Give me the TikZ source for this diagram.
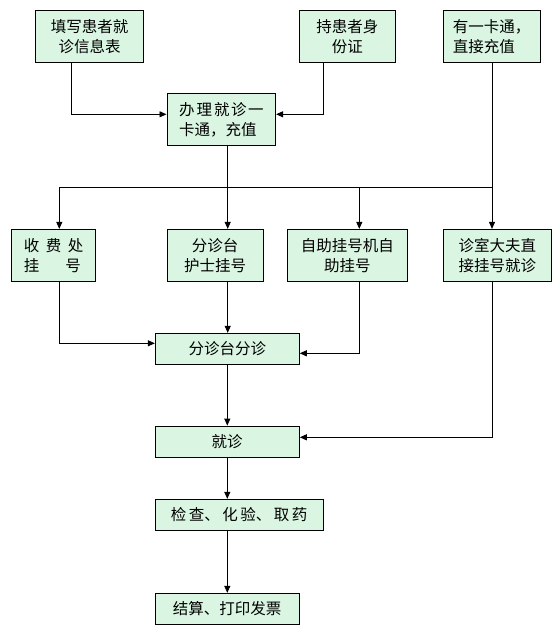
\documentclass[tikz,border=0pt]{standalone}
\usepackage{fontspec}
\setmainfont{Noto Sans CJK SC}
\usetikzlibrary{arrows.meta}
\definecolor{boxfill}{RGB}{218,246,226}
\begin{document}
\begin{tikzpicture}[x=1pt,y=-1pt,
  box/.style={draw=black,line width=0.9pt,fill=boxfill,inner sep=0pt,
    font=\fontsize{15.5pt}{20pt}\selectfont,align=center},
  lbox/.style={box,align=left},
  arr/.style={line width=0.9pt,-{Triangle[length=7pt,width=6pt]}},
  ln/.style={line width=0.9pt}]
\useasboundingbox (0,0) rectangle (557,631);
\fill[white] (0,0) rectangle (557,631);
% boxes
\node[box,minimum width=107.6pt,minimum height=52pt] (A) at (89.5,36.3) {填写患者就\\诊信息表};
\node[box,minimum width=96pt,minimum height=52pt] (B) at (347.3,36.3) {持患者身\\份证};
\node[lbox,minimum width=96.7pt,minimum height=52pt] (C) at (491.7,36.3) {有一卡通，\\直接充值};
\node[lbox,minimum width=108.7pt,minimum height=52pt] (D) at (221.3,119.7) {办\kern2pt 理\kern2pt 就\kern1.5pt 诊\kern1.5pt 一\\卡通，充值};
\node[lbox,minimum width=84pt,minimum height=51.7pt] (E) at (53.7,255.2) {收\hspace{6.5pt}费\hspace{6.5pt}处\\挂\hspace{26pt}号};
\node[box,minimum width=96.3pt,minimum height=51.7pt] (F) at (215.2,255.2) {分诊台\\护士挂号};
\node[box,minimum width=120pt,minimum height=51.7pt] (G) at (347.3,255.2) {自助挂号机自\\助挂号};
\node[box,minimum width=108pt,minimum height=51.7pt] (H) at (497.3,255.2) {诊室大夫直\\接挂号就诊};
\node[box,minimum width=144pt,minimum height=31pt] (I) at (227.3,348.8) {分诊台分诊};
\node[box,minimum width=144.3pt,minimum height=31.3pt] (J) at (227.2,441.7) {就诊};
\node[box,minimum width=168.3pt,minimum height=31.4pt] (K) at (239.2,515) {检\kern2.5pt 查、\kern2.5pt 化\kern2.5pt 验、\kern2.5pt 取\kern2.5pt 药};
\node[box,minimum width=144.3pt,minimum height=31pt] (L) at (227.2,608.8) {结算、打印发票};
% helper coordinates
\coordinate (a1) at (71.3,114.3);
\coordinate (b1) at (323.7,114.3);
\coordinate (d1) at (227.7,187.3);
\coordinate (bl) at (59.3,187.3);
\coordinate (br) at (492,187.3);
\coordinate (g1) at (359.3,187.3);
\coordinate (e1) at (59.3,343.3);
\coordinate (g2) at (359.3,353.3);
\coordinate (h1) at (492,437.3);
\coordinate (c1) at (227.3,400);
% connectors
\draw[arr] (A.south -| a1) |- (D.west |- a1);
\draw[arr] (B.south -| b1) |- (D.east |- b1);
\draw[ln] (D.south -| d1) -- (d1);
\draw[ln] (bl) -- (br);
\draw[arr] (C.south -| br) -- (H.north -| br);
\draw[arr] (bl) -- (E.north -| bl);
\draw[arr] (d1) -- (F.north -| d1);
\draw[arr] (g1) -- (G.north -| g1);
\draw[arr] (E.south -| e1) |- (I.west |- e1);
\draw[arr] (F.south -| d1) -- (I.north -| d1);
\draw[arr] (G.south -| g2) |- (I.east |- g2);
\draw[arr] (H.south -| h1) |- (J.east |- h1);
\draw[arr] (I.south -| c1) -- (J.north -| c1);
\draw[arr] (J.south -| c1) -- (K.north -| c1);
\draw[arr] (K.south -| c1) -- (L.north -| c1);
\end{tikzpicture}
\end{document}
